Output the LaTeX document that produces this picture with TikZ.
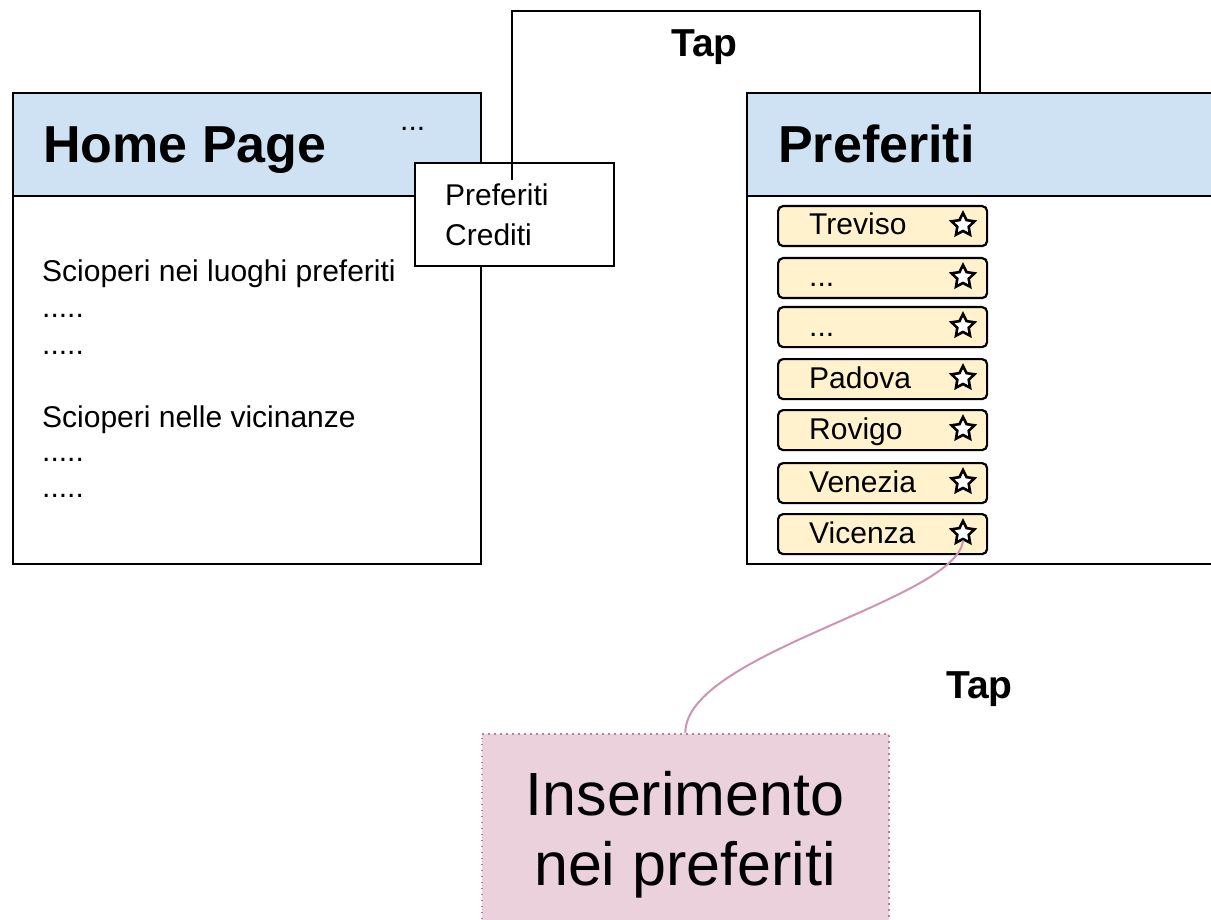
\documentclass[tikz,border=0pt]{standalone}
\usepackage{fontspec}
\setmainfont{Liberation Sans}
\usetikzlibrary{shapes.geometric}
\definecolor{headblue}{HTML}{CFE2F3}
\definecolor{itemyellow}{HTML}{FFF2CC}
\definecolor{pinkfill}{HTML}{EAD1DC}
\definecolor{pinkline}{HTML}{C27BA0}
\newcommand\tripledots{...}
\begin{document}
\begin{tikzpicture}[x=1pt,y=-1pt,
  panel/.style={draw=black,line width=2.2pt,inner sep=0pt,anchor=north west},
  conn/.style={draw=black,line width=2.2pt},
  itembox/.style={draw=black,line width=2.2pt,fill=itemyellow,rounded corners=5pt,inner sep=0pt,anchor=north west,minimum width=209,minimum height=40},
  startag/.style={star,star points=5,star point ratio=2.0,draw=black,line width=2.6pt,fill=white,minimum size=24pt,inner sep=0pt},
  txt/.style={inner sep=0pt,anchor=base west,font=\fontsize{30}{36}\selectfont},
  bigtitle/.style={inner sep=0pt,anchor=base west,font=\fontsize{52}{62}\selectfont\bfseries},
  taplbl/.style={inner sep=0pt,anchor=base west,font=\fontsize{39}{46}\selectfont\bfseries}]
\clip (0,0) rectangle (1211,920);
\fill[white] (0,0) rectangle (1211,920);
% Home page
\node[panel,fill=white,minimum width=468,minimum height=471] (homebody) at (12,92) {};
\node[panel,fill=headblue,minimum width=468,minimum height=103] (homehead) at (12,92) {};
\node[bigtitle] (hometitle) at (43,163) {Home Page};
\node[txt] (homedots) at (400,131) {\tripledots};
\node[txt] (h1) at (42,282) {Scioperi nei luoghi preferiti};
\node[txt] (h2) at (42,318) {.....};
\node[txt] (h3) at (42,354) {.....};
\node[txt] (h4) at (42,427) {Scioperi nelle vicinanze};
\node[txt] (h5) at (42,461) {.....};
\node[txt] (h6) at (42,497) {.....};
% menu
\node[panel,fill=white,minimum width=199,minimum height=103] (menu) at (414,162) {};
\node[txt] (m1) at (445,206) {Preferiti};
\node[txt] (m2) at (445,246) {Crediti};
% Preferiti page
\node[panel,fill=white,minimum width=480,minimum height=471] (prefbody) at (746,92) {};
\node[panel,fill=headblue,minimum width=480,minimum height=103] (prefhead) at (746,92) {};
\node[bigtitle] (preftitle) at (778,163) {Preferiti};
% items
\foreach \n/\y/\lab/\bl in {it1/205/Treviso/235, it2/257/\tripledots/287, it3/306/\tripledots/336, it4/358/Padova/388, it5/409/Rovigo/439, it6/462/Venezia/492, it7/513/Vicenza/543}{
  \node[itembox] (\n) at (777,\y) {};
  \node[txt] (\n t) at (809,\bl) {\lab};
  \node[startag] (\n s) at (963,\y+20) {};
}
% Tap connector
\coordinate (tapstart) at (512,180);
\coordinate (tapend) at (980,92);
\draw[conn] (tapstart) -- (512,11) -| (tapend);
\node[taplbl] (tap1) at (671,57) {Tap};
% Insert box
\node[panel,draw=pinkline,fill=pinkfill,line width=1.6pt,dash pattern=on 1.6pt off 4.4pt,minimum width=407,minimum height=220] (insert) at (481,733) {};
\node[inner sep=0pt,anchor=base,font=\fontsize{61}{70}\selectfont] (ins1) at (685,815) {Inserimento};
\node[inner sep=0pt,anchor=base,font=\fontsize{61}{70}\selectfont] (ins2) at (685,885) {nei preferiti};
\draw[draw=pinkline!80,line width=2pt] (it7s.south) .. controls +(-6,60) and +(0,-80) .. (insert.north);
\node[taplbl] (tap2) at (946,698) {Tap};
\end{tikzpicture}
\end{document}
